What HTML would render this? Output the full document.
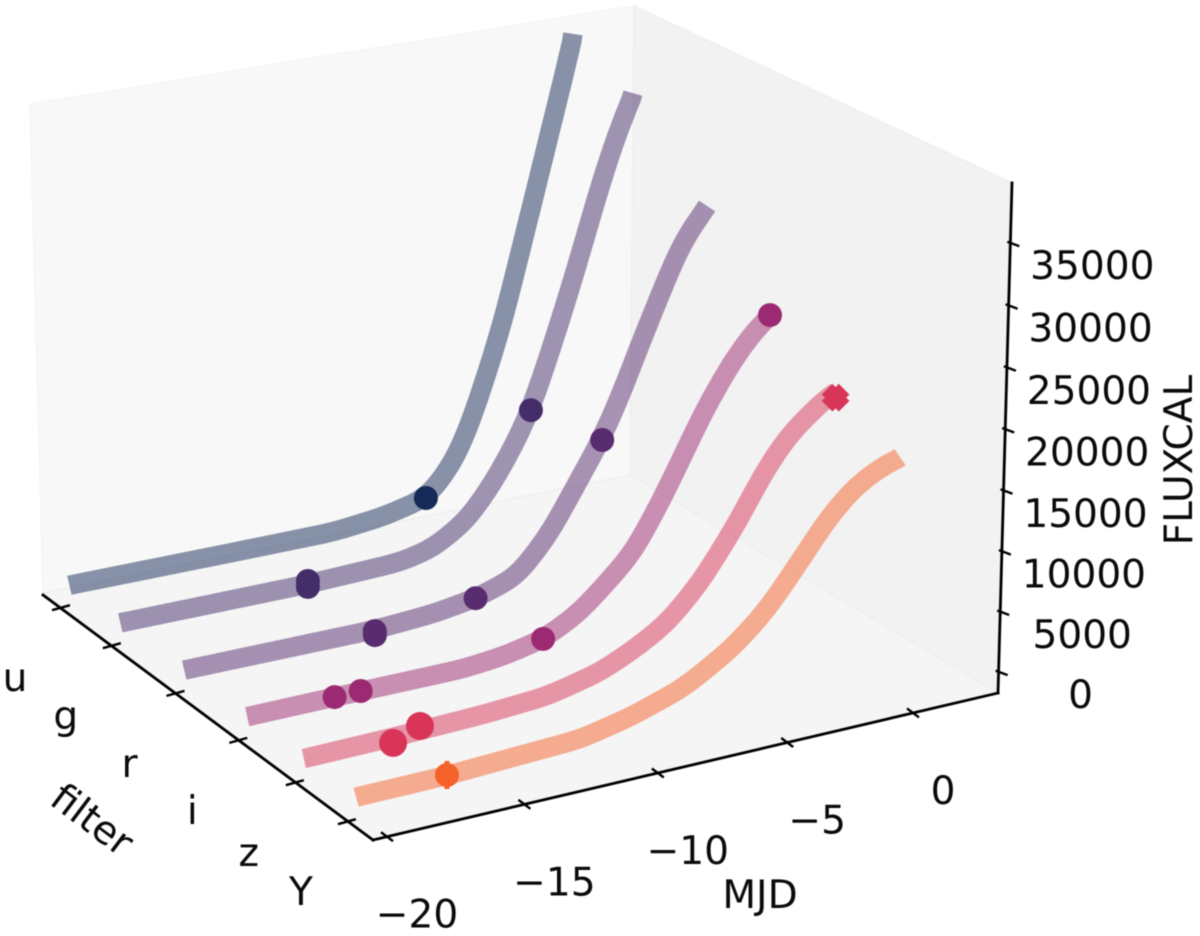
<!DOCTYPE html>
<html>
<head>
<meta charset="utf-8">
<title>Light curves by filter</title>
<style>
html,body{margin:0;padding:0;background:#fff;width:1200px;height:936px;overflow:hidden}
svg{display:block;filter:blur(0.4px)}
text{font-family:"DejaVu Sans","Liberation Sans",sans-serif;font-size:39.1px;fill:#0a0a0a}
</style>
</head>
<body>
<svg id="chart" xmlns="http://www.w3.org/2000/svg" width="1200" height="936" viewBox="0 0 1200 936">
  <polygon points="43,593 30,104 634,6 630,475" fill="#f8f8f8" stroke="#f5f5f5" stroke-width="1.5"/>
  <polygon points="630,475 634,6 1012,183 998,693" fill="#f2f2f2" stroke="#eeeeee" stroke-width="1.5"/>
  <polygon points="43,593 373,840 998,693 630,475" fill="#f5f5f5" stroke="#efefef" stroke-width="1.5"/>
  <g id="layer-series"></g>
  <g id="layer-axes"></g>
  <text x="760" y="908" text-anchor="middle">MJD</text>
  <text transform="translate(92,820) rotate(37)" x="0" y="13" text-anchor="middle">filter</text>
  <text transform="translate(1192,460) rotate(-90)" x="0" y="0" text-anchor="middle">FLUXCAL</text>
</svg>
<script>
// ---------- data ----------
const filterNames = ["u", "g", "r", "i", "z", "Y"];
const filterWavelengths = [3671, 4827, 6223, 7546, 8691, 9712];
const mjdTicks = [-20, -15, -10, -5, 0];
const fluxTicks = [0, 5000, 10000, 15000, 20000, 25000, 30000, 35000];
const seriesColors = ["#152a56", "#442d69", "#582c6e", "#9c2a72", "#d83558", "#f4622a"];

const mjdU = [-20.2, -13.85, -9.85, -7.83, -6.06, -5.31, -4.65, -4.1, -3.52, -2.91, -2.36, -1.81, -1.2, -0.62, 0.03];
const fluxU = [0, 0, 30, 500, 1383, 3007, 5025, 7870, 11350, 15150, 19660, 24080, 29060, 33780, 39500];
const mjdG = [-20.2, -12.98, -9.32, -8, -6.62, -5.56, -4.74, -4.01, -3.03, -2.3, -1.6, -1.08, -0.51, 0.13];
const fluxG = [0, 20, 283, 920, 2740, 5500, 8280, 11170, 17100, 21720, 26600, 30200, 33600, 36790];
const mjdR = [-20.2, -12.96, -10.69, -9.01, -7.36, -6.04, -4.96, -4.03, -3.23, -2.56, -1.72, -0.84, 0.25];
const fluxR = [0, 0, 300, 855, 2000, 5080, 8870, 12000, 15470, 19010, 23070, 27300, 30250];
const mjdI = [-20.2, -17, -12.1, -10.5, -8.98, -7.6, -6.75, -5.45, -4.26, -3.6, -2.69, -1.74, -0.95, 0];
const fluxI = [0, 40, 60, 400, 1090, 2600, 4150, 6680, 10860, 13500, 17210, 20390, 22580, 24350];
const mjdZ = [-20.2, -16.93, -13.68, -11.13, -9.1, -7.82, -6.5, -5.22, -3.93, -3.35, -2.77, -1.82, -0.5, 0.12];
const fluxZ = [0, 100, 300, 650, 1660, 2870, 4480, 7200, 11000, 13000, 15100, 17750, 20010, 20670];
const mjdY = [-20.2, -16.9, -14.47, -11.95, -10.06, -8.15, -7.65, -6.11, -4.81, -3.45, -2.5, -1.48, -0.53, 0.38];
const fluxY = [0, 60, 300, 530, 1390, 2700, 3230, 5200, 7620, 11230, 13900, 16000, 17150, 17800];

const obsMjdU = [-6.06];
const obsFluxU = [1383];
const obsMjdG = [-12.98, -12.98, -4.01];
const obsFluxG = [280, -230, 11170];
const obsMjdR = [-12.96, -12.96, -9.01, -3.95];
const obsFluxR = [-125, -465, 855, 12110];
const obsMjdI = [-16.96, -15.98, -8.98, -0.03];
const obsFluxI = [40, 70, 1090, 24300];
const obsMjdZ = [-16.93, -15.93];
const obsFluxZ = [-360, 520];
const obsMjdY = [-16.9];
const obsFluxY = [100];
const peakMjdZ = 0.1;
const peakFluxZ = 20200;

const curveMjd = [mjdU, mjdG, mjdR, mjdI, mjdZ, mjdY];
const curveFlux = [fluxU, fluxG, fluxR, fluxI, fluxZ, fluxY];
const markerMjd = [obsMjdU, obsMjdG, obsMjdR, obsMjdI, obsMjdZ, obsMjdY];
const markerFlux = [obsFluxU, obsFluxG, obsFluxR, obsFluxI, obsFluxZ, obsFluxY];

// ---------- axis functions ----------
function mjdScale(m) { return 0.0209 + (m + 20) * 0.04173; }
function filterScale(i) { return 0.0635 + (filterWavelengths[i] - 3671) * 0.0001436; }
function fluxScale(f) { return 0.0421 + f * 2.408e-5; }
function project(u, v, w) {
  const k = -0.0272;
  const X = 628.5 * u + 292.85 * v + 43 + w * k * 514;
  const Y = -86.7 * u + 163.3 * v + 593 + w * k * 18300;
  const W = 1 + 0.0659 * u - 0.0996 * v + w * k;
  return [X / W, Y / W];
}
function pt(filterIndex, mjd, flux) {
  return project(mjdScale(mjd), filterScale(filterIndex), fluxScale(flux));
}
// piecewise-linear lookup of a light curve
function lookup(xs, ys, x) {
  if (x <= xs[0]) return ys[0];
  for (let i = 1; i < xs.length; i++) {
    if (x <= xs[i]) {
      const t = (x - xs[i - 1]) / (xs[i] - xs[i - 1]);
      return ys[i - 1] + t * (ys[i] - ys[i - 1]);
    }
  }
  return ys[ys.length - 1];
}
// smooth the read-off light curve with a gaussian kernel, keeping end points fixed
function smoothCurve(xs, ys) {
  const sigma = 0.38, step = 0.05, out = [];
  const first = xs[0], last = xs[xs.length - 1];
  const n = Math.round((last - first) / step);
  for (let i = 0; i <= n; i++) {
    const x = first + (last - first) * i / n;
    const half = Math.min(3 * sigma, x - first, last - x);
    let sum = 0, wt = 0;
    for (let d = -half; d <= half + 1e-9; d += step) {
      const g = Math.exp(-d * d / (2 * sigma * sigma));
      sum += g * lookup(xs, ys, x + d);
      wt += g;
    }
    out.push([x, wt > 0 ? sum / wt : lookup(xs, ys, x)]);
  }
  return out;
}
const NS = "http://www.w3.org/2000/svg";
function make(tag, parent) {
  const el = document.createElementNS(NS, tag);
  parent.appendChild(el);
  return el;
}

// ---------- series ----------
const seriesLayer = document.getElementById("layer-series");
filterNames.forEach(function (name, fi) {
  const group = make("g", seriesLayer);
  
  

  const pts = smoothCurve(curveMjd[fi], curveFlux[fi]).map(function (s) { return pt(fi, s[0], s[1]); });
  const line = make("path", group);
  
  
  line.setAttribute("d", "M" + pts.map(function (p) { return p[0].toFixed(1) + " " + p[1].toFixed(1); }).join("L"));
  line.setAttribute("fill", "none");
  line.setAttribute("stroke", seriesColors[fi]);
  line.setAttribute("stroke-opacity", "0.5");
  line.setAttribute("stroke-width", "19.5");
  line.setAttribute("stroke-linecap", "butt");
  line.setAttribute("stroke-linejoin", "round");

  markerMjd[fi].forEach(function (m, j) {
    const p = pt(fi, m, markerFlux[fi][j]);
    const dot = make("circle", group);
    
    
    dot.setAttribute("cx", p[0].toFixed(1));
    dot.setAttribute("cy", p[1].toFixed(1));
    dot.setAttribute("r", name === "z" ? "14" : "12");
    dot.setAttribute("fill", seriesColors[fi]);
    if (name === "Y") {
      const bar = make("line", group);
      
      
      bar.setAttribute("x1", p[0].toFixed(1));
      bar.setAttribute("x2", p[0].toFixed(1));
      bar.setAttribute("y1", (p[1] - 14).toFixed(1));
      bar.setAttribute("y2", (p[1] + 14).toFixed(1));
      bar.setAttribute("stroke", seriesColors[fi]);
      bar.setAttribute("stroke-width", "5");
    }
  });

  if (name === "z") {
    const c = pt(fi, peakMjdZ, peakFluxZ);
    [[-8.5, -8.5, 8.5, 8.5], [-8.5, 8.5, 8.5, -8.5]].forEach(function (s) {
      const arm = make("line", group);
      
      
      arm.setAttribute("x1", (c[0] + s[0]).toFixed(1));
      arm.setAttribute("y1", (c[1] + s[1]).toFixed(1));
      arm.setAttribute("x2", (c[0] + s[2]).toFixed(1));
      arm.setAttribute("y2", (c[1] + s[3]).toFixed(1));
      arm.setAttribute("stroke", seriesColors[fi]);
      arm.setAttribute("stroke-width", "15");
    });
  }
});

// ---------- axes ----------
const axesLayer = document.getElementById("layer-axes");
function axisLine(name, a, b) {
  const l = make("line", axesLayer);
  
  
  l.setAttribute("x1", a[0]); l.setAttribute("y1", a[1]);
  l.setAttribute("x2", b[0]); l.setAttribute("y2", b[1]);
  l.setAttribute("stroke", "#000");
  l.setAttribute("stroke-width", "2.8");
  l.setAttribute("stroke-linecap", "square");
}
function tick(name, p, d1, d2) {
  const l = make("line", axesLayer);
  
  
  l.setAttribute("x1", (p[0] + d1[0]).toFixed(1));
  l.setAttribute("y1", (p[1] + d1[1]).toFixed(1));
  l.setAttribute("x2", (p[0] + d2[0]).toFixed(1));
  l.setAttribute("y2", (p[1] + d2[1]).toFixed(1));
  l.setAttribute("stroke", "#000");
  l.setAttribute("stroke-width", "2.4");
}
function label(name, x, y, str) {
  const t = make("text", axesLayer);
  
  
  t.setAttribute("x", x.toFixed(1));
  t.setAttribute("y", y.toFixed(1));
  t.setAttribute("text-anchor", "middle");
  t.textContent = str;
}
axisLine("filter-axis-line", [43, 595], [373, 840]);
axisLine("x-axis-line", [373, 840], [998, 693]);
axisLine("z-axis-line", [998, 693], [1012, 183]);

filterNames.forEach(function (name, i) {
  const p = project(0, filterScale(i), 0);
  tick("filter-tick-" + name, p, [-10, 3], [8, -2]);
  label("filter-tick-label-" + name, p[0] - 47, p[1] + 84, name);
});
mjdTicks.forEach(function (m) {
  const p = project(mjdScale(m), 1, 0);
  tick("x-tick-" + m, p, [-6, -4.5], [6, 4.5]);
  label("x-tick-label-" + m, p[0] + 30, p[1] + 91, String(m).replace("-", "\u2212"));
});
fluxTicks.forEach(function (f) {
  const p = project(1, 1, fluxScale(f));
  tick("z-tick-" + f, p, [-3, -1.5], [9, 3]);
  label("z-tick-label-" + f, p[0] + 82, p[1] + 36, String(f));
});
</script>
</body>
</html>
